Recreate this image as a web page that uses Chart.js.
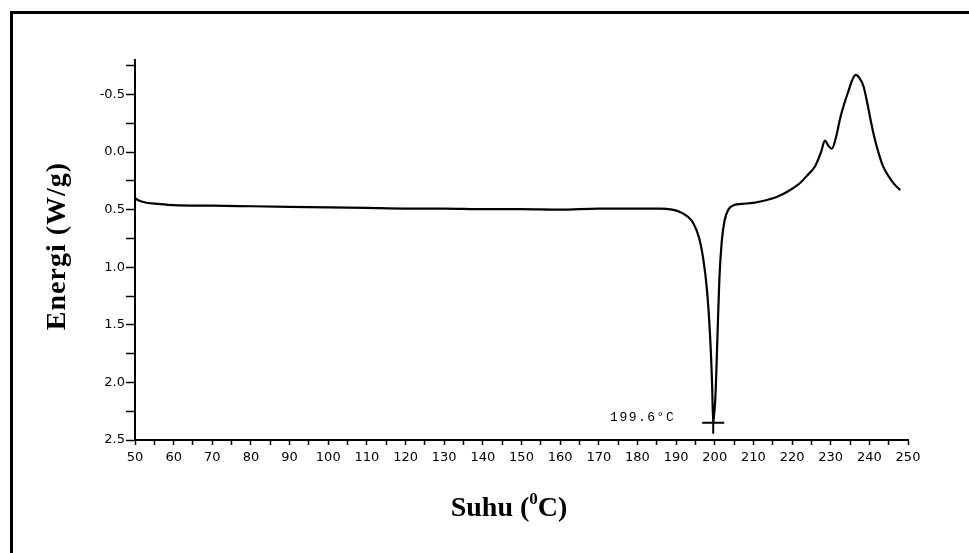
<!DOCTYPE html>
<html>
<head>
<meta charset="utf-8">
<title>DSC</title>
<script src="https://cdn.jsdelivr.net/npm/chart.js@4"></script>
<style>
  body { margin: 0; background: #fff; }
  canvas { display: block; }
</style>
</head>
<body>
<canvas id="dsc" width="969" height="553"></canvas>
<script>
// temperature (°C) and heat flow (W/g)
const temps = [50, 51, 53, 56, 60, 70, 80, 90, 100, 110, 120, 130, 140, 150, 160, 170, 180, 186, 189,
  191, 193, 194.5, 196, 197, 198, 198.8, 199.3, 199.6, 200.2, 200.7, 201.2, 201.8, 202.5, 203.5,
  205, 207, 210, 213, 216, 219, 222, 224, 226, 227.5, 228.5, 229.5, 230.3, 231.3, 232.5, 233.5,
  234.5, 235.5, 236.5, 237.5, 238.5, 239.5, 240.5, 241.5, 242.5, 243.5, 245, 246.5, 248];
const energy = [0.40, 0.42, 0.44, 0.45, 0.46, 0.465, 0.47, 0.475, 0.48, 0.485, 0.49, 0.49, 0.495, 0.495, 0.50, 0.49, 0.49, 0.49, 0.50,
  0.52, 0.56, 0.62, 0.75, 0.92, 1.2, 1.6, 2.0, 2.35, 2.1, 1.6, 1.1, 0.78, 0.6, 0.5,
  0.46, 0.45, 0.44, 0.42, 0.39, 0.34, 0.27, 0.2, 0.12, 0.0, -0.1, -0.05, -0.03, -0.12, -0.3, -0.42,
  -0.52, -0.62, -0.67, -0.64, -0.57, -0.42, -0.25, -0.1, 0.02, 0.12, 0.21, 0.28, 0.33];

const peakTemp = 199.6;
const peakEnergy = 2.35;
const peakLabel = "199.6°C";

const xTicks = [50, 60, 70, 80, 90, 100, 110, 120, 130, 140, 150, 160, 170, 180, 190, 200, 210, 220, 230, 240, 250];
const yTicks = [-0.5, 0.0, 0.5, 1.0, 1.5, 2.0, 2.5];

const yTitle = "Energi (W/g)";

// page frame, axis titles and peak label
const decor = {
  id: "decor",
  beforeDraw(chart) {
    const ctx = chart.ctx;
    ctx.save();
    ctx.fillStyle = "#000";
    ctx.fillRect(10, 11, 959, 3);
    ctx.fillRect(10, 11, 3, 542);
    ctx.restore();
  },
  afterDraw(chart) {
    const ctx = chart.ctx;
    const x = chart.scales.x;
    const y = chart.scales.y;
    ctx.save();
    ctx.fillStyle = "#000";

    // y title
    ctx.translate(58, 246);
    ctx.rotate(-Math.PI / 2);
    ctx.font = "bold 28px 'Liberation Serif', 'Times New Roman', serif";
    ctx.letterSpacing = "1px";
    ctx.textAlign = "center";
    ctx.textBaseline = "middle";
    ctx.fillText(yTitle, 0, 0);
    ctx.setTransform(1, 0, 0, 1, 0, 0);

    // x title with superscript zero
    ctx.letterSpacing = "0px";
    ctx.textAlign = "left";
    ctx.textBaseline = "alphabetic";
    const big = "bold 28px 'Liberation Serif', 'Times New Roman', serif";
    const small = "bold 17px 'Liberation Serif', 'Times New Roman', serif";
    ctx.font = big;
    const a = "Suhu (", b = "C)";
    ctx.font = small;
    const wSup = ctx.measureText("0").width;
    ctx.font = big;
    const total = ctx.measureText(a).width + wSup + ctx.measureText(b).width;
    let cx = 509 - total / 2;
    const base = 516;
    ctx.fillText(a, cx, base);
    cx += ctx.measureText(a).width;
    ctx.font = small;
    ctx.fillText("0", cx, base - 12);
    cx += wSup;
    ctx.font = big;
    ctx.fillText(b, cx, base);

    // peak temperature label
    const px = x.getPixelForValue(peakTemp);
    const py = y.getPixelForValue(peakEnergy);
    ctx.font = "13px 'Liberation Mono', 'Courier New', monospace";
    ctx.letterSpacing = "1.5px";
    ctx.textAlign = "right";
    ctx.textBaseline = "middle";
    ctx.fillText(peakLabel, px - 38, py - 5);
    ctx.restore();
  }
};

new Chart(document.getElementById("dsc"), {
  type: "line",
  data: {
    datasets: [
      {
        label: "DSC",
        data: temps.map((t, i) => ({ x: t, y: energy[i] })),
        borderColor: "#000",
        borderWidth: 2.2,
        pointRadius: 0,
        cubicInterpolationMode: "monotone",
        fill: false,
      },
      {
        label: "peak",
        data: [{ x: peakTemp, y: peakEnergy }],
        showLine: false,
        pointStyle: "cross",
        pointRadius: 11,
        borderColor: "#000",
        borderWidth: 2,
      },
    ],
  },
  options: {
    responsive: false,
    animation: false,
    events: [],
    layout: { padding: { left: 95, top: 60, right: 61, bottom: 83 } },
    plugins: { legend: { display: false }, tooltip: { enabled: false } },
    scales: {
      x: {
        type: "linear",
        min: 50,
        max: 250,
        afterFit: (s) => { s.height = 30; },
        afterBuildTicks: (s) => {
          const t = [];
          for (let v = 50; v <= 250; v += 5) t.push({ value: v });
          s.ticks = t;
        },
        ticks: {
          color: "#000",
          font: { family: "'DejaVu Sans', sans-serif", size: 13 },
          padding: 5,
          maxRotation: 0,
          autoSkip: false,
          callback: (v) => (xTicks.includes(v) ? String(v) : ""),
        },
        grid: { drawOnChartArea: false, color: "#000", tickLength: 5, tickWidth: 1.5 },
        border: { color: "#000", width: 2 },
      },
      y: {
        type: "linear",
        reverse: true,
        min: -0.8,
        max: 2.5,
        afterFit: (s) => { s.width = 40; },
        afterBuildTicks: (s) => {
          const t = [];
          for (let v = -0.75; v <= 2.5001; v += 0.25) t.push({ value: Math.round(v * 100) / 100 });
          s.ticks = t;
        },
        ticks: {
          color: "#000",
          font: { family: "'DejaVu Sans', sans-serif", size: 13 },
          padding: 1,
          autoSkip: false,
          callback: (v) => (yTicks.includes(v) ? v.toFixed(1) : ""),
        },
        grid: { drawOnChartArea: false, color: "#000", tickLength: 9, tickWidth: 1.5 },
        border: { color: "#000", width: 2 },
      },
    },
  },
  plugins: [decor],
});
</script>
</body>
</html>
